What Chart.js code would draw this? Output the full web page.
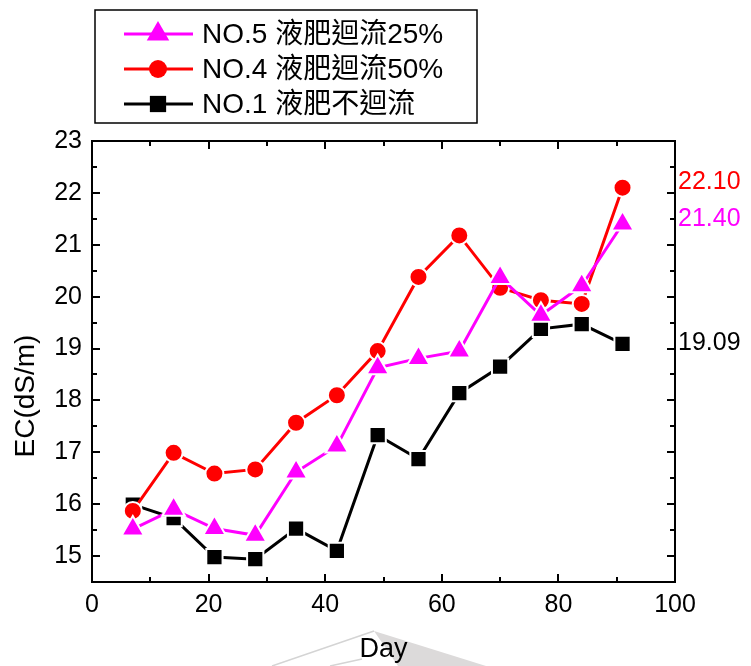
<!DOCTYPE html>
<html>
<head>
<meta charset="utf-8">
<script src="https://cdn.jsdelivr.net/npm/chart.js@4"></script>
<style>
  body { margin: 0; background: #fff; }
</style>
</head>
<body>
<canvas id="ec" width="751" height="666"></canvas>
<script>
const days = [7, 14, 21, 28, 35, 42, 49, 56, 63, 70, 77, 84, 91];
const no5 = [15.52, 15.90, 15.53, 15.40, 16.62, 17.12, 18.63, 18.81, 18.95, 20.37, 19.64, 20.21, 21.40];
const no4 = [15.87, 16.99, 16.59, 16.67, 17.57, 18.10, 18.95, 20.38, 21.18, 20.17, 19.93, 19.86, 22.10];
const no1 = [15.99, 15.73, 14.98, 14.94, 15.53, 15.10, 17.33, 16.87, 18.14, 18.65, 19.38, 19.47, 19.09];
const seriesNames = ['NO.5 液肥迴流25%', 'NO.4 液肥迴流50%', 'NO.1 液肥不迴流'];
const endLabels = ['21.40', '22.10', '19.09'];
const xTicks = [0, 20, 40, 60, 80, 100];
const yTicks = [15, 16, 17, 18, 19, 20, 21, 22, 23];

const FONT = '"Liberation Sans", Arial, "Noto Sans CJK TC", sans-serif';

function pts(vals) {
    return days.map((d, i) => ({x: d, y: vals[i]}));
}

const styles = [
    {color: '#ff00ff', pointStyle: 'triangle', radius: 13, shift: -5},
    {color: '#ff0000', pointStyle: 'circle', radius: 9, shift: -6},
    {color: '#000000', pointStyle: 'rect', radius: 11.5, shift: -1}
];
const values = [no5, no4, no1];

const datasets = values.map((v, i) => ({
    label: seriesNames[i],
    data: pts(v),
    borderColor: styles[i].color,
    backgroundColor: styles[i].color,
    borderWidth: 3,
    pointStyle: styles[i].pointStyle,
    pointRadius: styles[i].radius,
    pointBackgroundColor: styles[i].color,
    pointBorderColor: '#ffffff',
    pointBorderWidth: 2,
    order: i,
    tension: 0
}));

const decor = {
    id: 'decor',
    beforeDraw(chart) {
        // faint grey watermark behind the x title
        const ctx = chart.ctx;
        ctx.save();
        ctx.fillStyle = '#dcdada';
        ctx.beginPath();
        ctx.moveTo(374, 631);
        ctx.lineTo(486, 666);
        ctx.lineTo(398, 666);
        ctx.closePath();
        ctx.fill();
        ctx.strokeStyle = '#d4d4d4';
        ctx.lineWidth = 1.5;
        ctx.beginPath();
        ctx.moveTo(374, 631);
        ctx.lineTo(272, 666);
        ctx.moveTo(362, 659);
        ctx.lineTo(330, 666);
        ctx.stroke();
        ctx.restore();
    },
    afterDraw(chart) {
        const ctx = chart.ctx;
        const a = chart.chartArea;
        const xs = chart.scales.x, ys = chart.scales.y;
        ctx.save();
        ctx.strokeStyle = '#000';
        ctx.lineWidth = 2;
        ctx.strokeRect(a.left, a.top, a.right - a.left, a.bottom - a.top);

        // inward ticks on all four sides
        ctx.beginPath();
        for (let v = 0; v <= 100; v += 10) {
            const px = Math.round(xs.getPixelForValue(v));
            const len = v % 20 === 0 ? 8 : 5;
            ctx.moveTo(px, a.bottom); ctx.lineTo(px, a.bottom - len);
            ctx.moveTo(px, a.top); ctx.lineTo(px, a.top + len);
        }
        for (let v = 15; v <= 23; v += 0.5) {
            const py = Math.round(ys.getPixelForValue(v));
            const len = v % 1 === 0 ? 8 : 5;
            ctx.moveTo(a.left, py); ctx.lineTo(a.left + len, py);
            ctx.moveTo(a.right, py); ctx.lineTo(a.right - len, py);
        }
        ctx.stroke();

        // end value labels
        ctx.font = '25px ' + FONT;
        ctx.textAlign = 'left';
        ctx.textBaseline = 'middle';
        endLabels.forEach((t, i) => {
            ctx.fillStyle = styles[i].color;
            ctx.fillText(t, a.right + 3, ys.getPixelForValue(parseFloat(t)) + styles[i].shift);
        });

        // y axis title
        ctx.save();
        ctx.translate(26, 396);
        ctx.rotate(-Math.PI / 2);
        ctx.fillStyle = '#000';
        ctx.textAlign = 'center';
        ctx.font = '28px ' + FONT;
        ctx.fillText('EC(dS/m)', 0, 0);
        ctx.restore();

        // legend box
        ctx.lineWidth = 1.5;
        ctx.strokeStyle = '#000';
        ctx.strokeRect(95, 10, 382, 113);
        const rowY = [34, 69, 104];
        seriesNames.forEach((name, i) => {
            const y = rowY[i];
            ctx.strokeStyle = styles[i].color;
            ctx.lineWidth = 3;
            ctx.beginPath();
            ctx.moveTo(124, y);
            ctx.lineTo(193, y);
            ctx.stroke();
            ctx.fillStyle = styles[i].color;
            Chart.helpers.drawPoint(ctx, {pointStyle: styles[i].pointStyle, radius: styles[i].radius, borderWidth: 0, rotation: 0}, 158, y);
            ctx.fillStyle = '#000';
            ctx.font = '28px ' + FONT;
            ctx.textAlign = 'left';
            ctx.fillText(name, 202, y + 1);
        });
        ctx.restore();
    }
};

new Chart(document.getElementById('ec'), {
    type: 'line',
    data: {datasets: datasets},
    options: {
        responsive: false,
        animation: false,
        layout: {padding: {top: 141, right: 76, left: 0, bottom: 0}},
        plugins: {
            legend: {display: false},
            tooltip: {enabled: false}
        },
        scales: {
            x: {
                type: 'linear',
                min: 0,
                max: 100,
                afterFit: s => { s.height = 84; },
                afterBuildTicks: s => { s.ticks = xTicks.map(v => ({value: v})); },
                grid: {display: false, drawTicks: false},
                border: {display: false},
                ticks: {color: '#000', padding: 8, font: {family: FONT, size: 25}, maxRotation: 0},
                title: {display: true, text: 'Day', color: '#000', font: {family: FONT, size: 27}, padding: {top: 0, bottom: 0}}
            },
            y: {
                min: 14.5,
                max: 23,
                afterFit: s => { s.width = 92; },
                afterBuildTicks: s => { s.ticks = yTicks.map(v => ({value: v})); },
                grid: {display: false, drawTicks: false},
                border: {display: false},
                ticks: {color: '#000', padding: 10, font: {family: FONT, size: 25}}
            }
        }
    },
    plugins: [decor]
});
</script>
</body>
</html>
